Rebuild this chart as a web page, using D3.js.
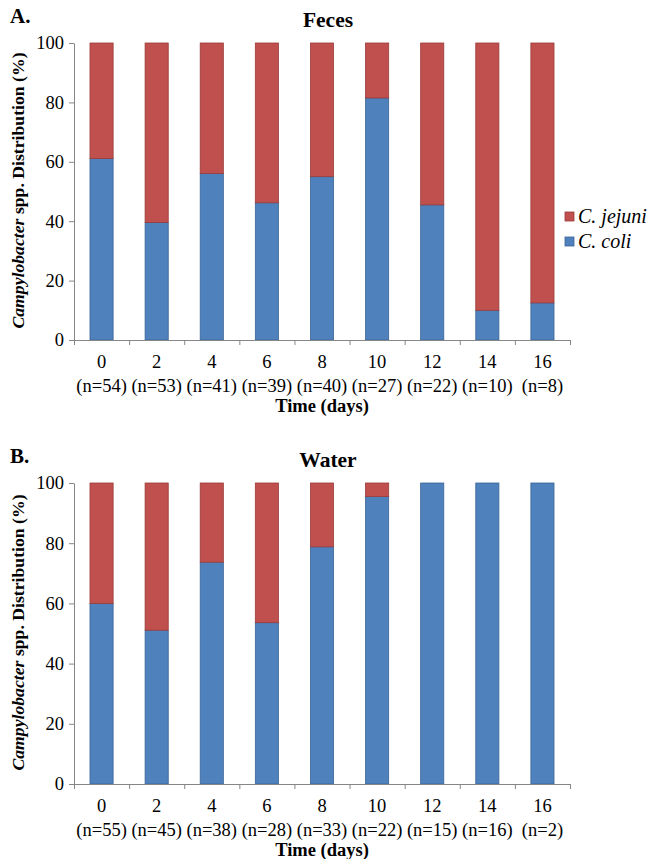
<!DOCTYPE html>
<html>
<head>
<meta charset="utf-8">
<script src="https://cdn.jsdelivr.net/npm/d3@7"></script>
<style>
  body { margin: 0; background: #fff; }
</style>
</head>
<body>
<div id="container"></div>
<script>
/* DATA */
const days = ["0", "2", "4", "6", "8", "10", "12", "14", "16"]
const fecesN = [54, 53, 41, 39, 40, 27, 22, 10, 8]
const fecesColi = [61.1, 39.6, 56.1, 46.2, 55.0, 81.5, 45.5, 10.0, 12.5]
const waterN = [55, 45, 38, 28, 33, 22, 15, 16, 2]
const waterColi = [60.0, 51.1, 73.7, 53.6, 78.8, 95.5, 100, 100, 100]
const yTicks = [0, 20, 40, 60, 80, 100]
const seriesNames = ["C. jejuni", "C. coli"]

/* CONSTANTS */
const width = 651, height = 859
const font = "'Liberation Serif'"
const blue = "#4f81bd", red = "#c0504d", axisColor = "#868686"

const svg = d3.select("#container")
  .append("svg")
  .attr("width", width)
  .attr("height", height)
  .style("font-family", font)

function drawPanel(letter, title, coli, ns, top, bottom, showLegend) {
  const left = 74, right = 570
  const data = days.map((d, i) => ({ day: d, n: ns[i], coli: coli[i], jejuni: 100 - coli[i] }))

  const xScale = d3.scaleBand()
    .domain(days)
    .range([left, right])
    .paddingInner(0.58)
    .paddingOuter(0.29)

  const yScale = d3.scaleLinear()
    .domain([0, 100])
    .range([bottom, top])

  const g = svg.append("g")

  // bars: C. coli at bottom, C. jejuni stacked above
  g.selectAll(".coli")
    .data(data)
    .join("rect")
    .attr("class", "coli")
    .attr("x", d => xScale(d.day))
    .attr("width", xScale.bandwidth())
    .attr("y", d => yScale(d.coli))
    .attr("height", d => yScale(0) - yScale(d.coli))
    .attr("fill", blue)
    .attr("stroke", "#3a6597")
    .attr("stroke-width", 0.8)

  g.selectAll(".jejuni")
    .data(data.filter(d => d.jejuni > 0.01))
    .join("rect")
    .attr("class", "jejuni")
    .attr("x", d => xScale(d.day))
    .attr("width", xScale.bandwidth())
    .attr("y", yScale(100))
    .attr("height", d => yScale(d.coli) - yScale(100))
    .attr("fill", red)
    .attr("stroke", "#9b3b38")
    .attr("stroke-width", 0.8)

  // y axis
  const yAxis = d3.axisLeft(yScale)
    .tickValues(yTicks)
    .tickSize(5)
    .tickPadding(5)
    .tickSizeOuter(0)

  const yAxisGroup = g.append("g")
    .attr("transform", `translate(${left}, 0)`)
    .call(yAxis)
    .attr("font-family", null)
    .attr("font-size", null)
  yAxisGroup.selectAll("path, line").attr("stroke", axisColor)
  yAxisGroup.selectAll("text")
    .attr("fill", "#000")
    .style("font-size", "18.5px")
    .style("font-family", font)

  // x axis: boundary tick marks
  const edgeScale = d3.scaleLinear().domain([0, days.length]).range([left, right])
  const xEdges = g.append("g")
    .attr("transform", `translate(0, ${bottom})`)
    .call(d3.axisBottom(edgeScale).tickValues(d3.range(days.length + 1)).tickFormat("").tickSize(5).tickSizeOuter(0))
  xEdges.selectAll("path, line").attr("stroke", axisColor)

  // x tick labels (two lines)
  const labels = g.selectAll(".xlab")
    .data(data)
    .join("text")
    .attr("class", "xlab")
    .attr("text-anchor", "middle")
    .style("font-family", font)
    .style("font-size", "18.5px")
  labels.append("tspan")
    .attr("x", d => xScale(d.day) + xScale.bandwidth() / 2)
    .attr("y", bottom + 28)
    .text(d => d.day)
  labels.append("tspan")
    .attr("x", d => xScale(d.day) + xScale.bandwidth() / 2)
    .attr("y", bottom + 52)
    .text(d => `(n=${d.n})`)

  // axis titles
  g.append("text")
    .attr("x", (left + right) / 2)
    .attr("y", bottom + 72)
    .attr("text-anchor", "middle")
    .style("font-family", font)
    .style("font-size", "18.5px")
    .style("font-weight", "bold")
    .text("Time (days)")

  const yl = g.append("text")
    .attr("transform", `translate(24, ${(top + bottom) / 2 - 1}) rotate(-90)`)
    .attr("text-anchor", "middle")
    .style("font-family", font)
    .style("font-size", "17.7px")
    .style("font-weight", "bold")
  yl.append("tspan").style("font-style", "italic").text("Campylobacter")
  yl.append("tspan").text(" spp. Distribution (%)")

  // panel title and letter
  g.append("text")
    .attr("x", 328)
    .attr("y", top - 16)
    .attr("text-anchor", "middle")
    .style("font-family", font)
    .style("font-size", "21.5px")
    .style("font-weight", "bold")
    .text(title)

  g.append("text")
    .attr("x", 10)
    .attr("y", top - 20)
    .style("font-family", font)
    .style("font-size", "21px")
    .style("font-weight", "bold")
    .text(letter)

  if (showLegend) {
    const legend = g.selectAll(".legend")
      .data(seriesNames)
      .join("g")
      .attr("class", "legend")
      .attr("transform", (d, i) => `translate(565, ${212 + i * 25})`)
    legend.append("rect")
      .attr("width", 9)
      .attr("height", 9)
      .attr("fill", (d, i) => i === 0 ? red : blue)
      .attr("stroke", (d, i) => i === 0 ? "#9b3b38" : "#3a6597")
      .attr("stroke-width", 0.8)
    legend.append("text")
      .attr("x", 13)
      .attr("y", 11)
      .style("font-family", font)
      .style("font-size", "20px")
      .style("font-style", "italic")
      .text(d => d)
  }
}

drawPanel("A.", "Feces", fecesColi, fecesN, 43, 340, true)
drawPanel("B.", "Water", waterColi, waterN, 483, 784, false)
</script>
</body>
</html>
